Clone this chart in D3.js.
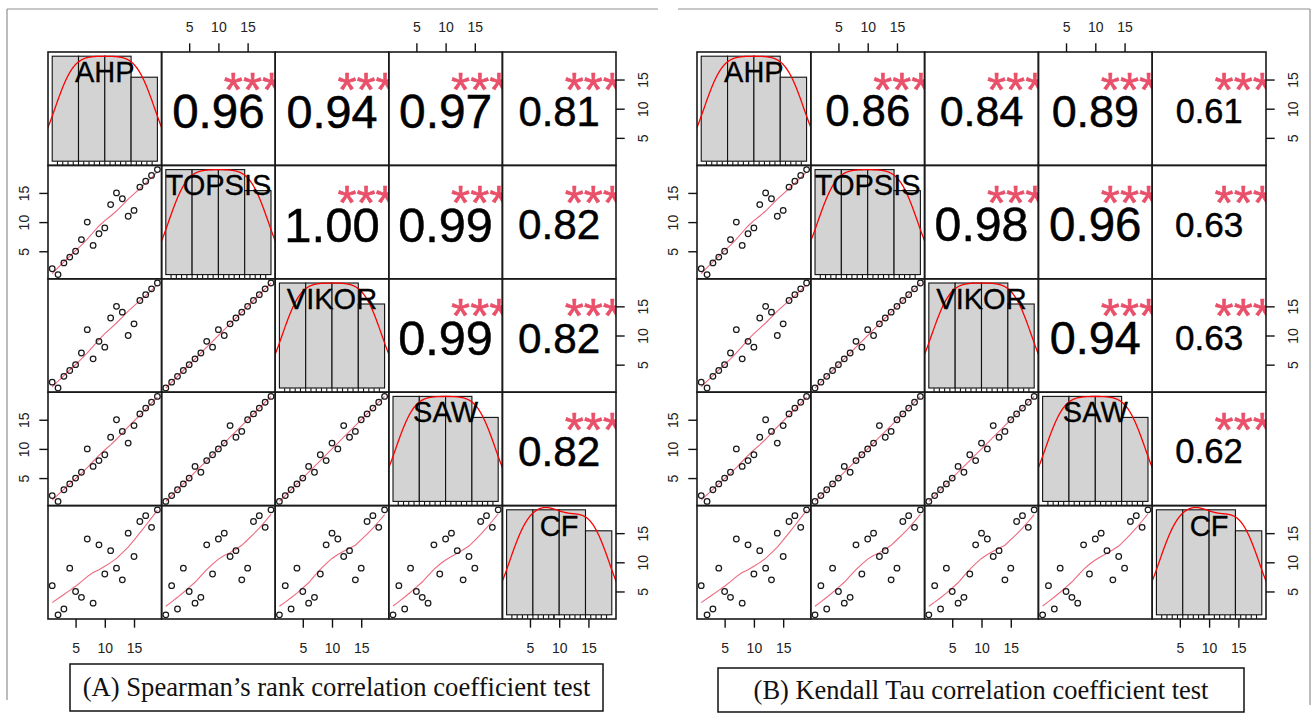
<!DOCTYPE html>
<html><head><meta charset="utf-8">
<script src="https://cdn.jsdelivr.net/npm/d3@7"></script>
<style>
body{margin:0;background:#fff;}
svg{display:block;}
</style></head><body>
<svg id="chart" width="1314" height="720"></svg>
<script>
// ---------------- data ----------------
const methods = ["AHP", "TOPSIS", "VIKOR", "SAW", "CF"];
const AHP    = [1, 2, 3, 4, 5, 6, 7, 8, 9, 10, 11, 12, 13, 14, 15, 16, 17, 18, 19];
const TOPSIS = [2, 1, 3, 4, 5, 7, 10, 6, 8, 9, 13, 15, 14, 11, 12, 16, 17, 18, 19];
const VIKOR  = [2, 1, 3, 4, 5, 7, 11, 6, 9, 8, 13, 15, 14, 10, 12, 16, 17, 18, 19];
const SAW    = [2, 1, 3, 4, 5, 6, 10, 7, 8, 9, 12, 15, 13, 11, 14, 16, 17, 18, 19];
const CF     = [6, 1, 2, 9, 5, 4, 14, 3, 13, 8, 12, 9, 7, 15, 11, 17, 18, 16, 19];
// pairs order: (AHP,TOPSIS),(AHP,VIKOR),(AHP,SAW),(AHP,CF),(TOPSIS,VIKOR),(TOPSIS,SAW),(TOPSIS,CF),(VIKOR,SAW),(VIKOR,CF),(SAW,CF)
const spearmanR   = [0.96, 0.94, 0.97, 0.81, 1.00, 0.99, 0.82, 0.99, 0.82, 0.82];
const kendallR    = [0.86, 0.84, 0.89, 0.61, 0.98, 0.96, 0.63, 0.94, 0.63, 0.62];
const spearmanSig = ["***", "***", "***", "***", "***", "***", "***", "***", "***", "***"];
const kendallSig  = ["***", "***", "***", "***", "***", "***", "***", "***", "***", "***"];
const axisTicks   = [5, 10, 15];
const histBreaks  = [0, 5, 10, 15, 20];
const captions    = ["(A) Spearman\u2019s rank correlation coefficient test",
                     "(B) Kendall Tau correlation coefficient test"];

// ---------------- helpers ----------------
const vars = [AHP, TOPSIS, VIKOR, SAW, CF];
const SANS = "'Liberation Sans', Arial, Helvetica, sans-serif";
const SERIF = "'Liberation Serif', 'Times New Roman', serif";

function lowess(xIn, yIn, f = 2 / 3, nsteps = 3) {
  const n = xIn.length;
  const ord = d3.range(n).sort((a, b) => xIn[a] - xIn[b]);
  const x = [0].concat(ord.map(i => xIn[i]));
  const y = [0].concat(ord.map(i => yIn[i]));
  const ys = new Array(n + 1).fill(0), rw = new Array(n + 1).fill(1);
  const res = new Array(n + 1).fill(0), w = new Array(n + 1).fill(0);
  const delta = 0.01 * (x[n] - x[1]);
  const ns = Math.max(2, Math.min(n, Math.floor(f * n + 1e-7)));
  const range = x[n] - x[1];
  function lowest(xs, nleft, nright, userw) {
    const h = Math.max(xs - x[nleft], x[nright] - xs);
    const h9 = 0.999 * h, h1 = 0.001 * h;
    let a = 0, j = nleft;
    while (j <= n) {
      w[j] = 0;
      const r = Math.abs(x[j] - xs);
      if (r <= h9) {
        if (r <= h1) w[j] = 1; else { const q = r / h, t = 1 - q * q * q; w[j] = t * t * t; }
        if (userw) w[j] *= rw[j];
        a += w[j];
      } else if (x[j] > xs) break;
      j++;
    }
    const nrt = j - 1;
    if (a <= 0) return null;
    for (j = nleft; j <= nrt; j++) w[j] /= a;
    if (h > 0) {
      a = 0;
      for (j = nleft; j <= nrt; j++) a += w[j] * x[j];
      let b = xs - a, c = 0;
      for (j = nleft; j <= nrt; j++) c += w[j] * (x[j] - a) * (x[j] - a);
      if (Math.sqrt(c) > 0.001 * range) {
        b /= c;
        for (j = nleft; j <= nrt; j++) w[j] *= (b * (x[j] - a) + 1);
      }
    }
    let s = 0;
    for (j = nleft; j <= nrt; j++) s += w[j] * y[j];
    return s;
  }
  let iter = 1;
  while (iter <= nsteps + 1) {
    let nleft = 1, nright = ns, last = 0, i = 1;
    for (;;) {
      if (nright < n) {
        const d1 = x[i] - x[nleft], d2 = x[nright + 1] - x[i];
        if (d1 > d2) { nleft++; nright++; continue; }
      }
      const v = lowest(x[i], nleft, nright, iter > 1);
      ys[i] = (v === null) ? y[i] : v;
      if (last < i - 1) {
        const denom = x[i] - x[last];
        for (let j = last + 1; j < i; j++) {
          const alpha = (x[j] - x[last]) / denom;
          ys[j] = alpha * ys[i] + (1 - alpha) * ys[last];
        }
      }
      last = i;
      const cut = x[last] + delta;
      for (i = last + 1; i <= n; i++) {
        if (x[i] > cut) break;
        if (x[i] === x[last]) { ys[i] = ys[last]; last = i; }
      }
      i = Math.max(last + 1, i - 1);
      if (last >= n) break;
    }
    let sc = 0;
    for (let k = 1; k <= n; k++) { res[k] = y[k] - ys[k]; sc += Math.abs(res[k]); }
    sc /= n;
    if (iter > nsteps) break;
    const absr = res.slice(1).map(Math.abs).sort((a, b) => a - b);
    const m1 = Math.floor(n / 2);
    const cmad = (n % 2 === 0) ? 3 * (absr[m1] + absr[n - m1 - 1]) : 6 * absr[m1];
    if (cmad < 1e-7 * sc) break;
    const c9 = 0.999 * cmad, c1 = 0.001 * cmad;
    for (let k = 1; k <= n; k++) {
      const r = Math.abs(res[k]);
      rw[k] = r <= c1 ? 1 : (r <= c9 ? Math.pow(1 - (r / cmad) * (r / cmad), 2) : 0);
    }
    iter++;
  }
  return x.slice(1).map((xv, k) => [xv, ys[k + 1]]);
}

function kde(data) {
  const n = data.length;
  const s = data.slice().sort((a, b) => a - b);
  const sd = d3.deviation(s);
  const iqr = d3.quantile(s, 0.75) - d3.quantile(s, 0.25);
  const bw = 0.9 * Math.min(sd, iqr / 1.34) * Math.pow(n, -0.2);
  const from = s[0] - 3 * bw, to = s[n - 1] + 3 * bw;
  return d3.range(512).map(k => {
    const t = from + (to - from) * k / 511;
    const v = d3.sum(s, d => Math.exp(-0.5 * ((t - d) / bw) ** 2)) / (n * bw * Math.sqrt(2 * Math.PI));
    return [t, v];
  });
}

function histDensity(data) {
  const n = data.length;
  return d3.range(histBreaks.length - 1).map(b => {
    const lo = histBreaks[b], hi = histBreaks[b + 1];
    const c = data.filter(d => (d > lo || (b === 0 && d >= lo)) && d <= hi).length;
    return { x0: lo, x1: hi, density: c / (n * (hi - lo)) };
  });
}

function pairIndex(i, j) {
  let k = 0;
  for (let a = 0; a < vars.length; a++)
    for (let b = a + 1; b < vars.length; b++) {
      if (a === i && b === j) return k;
      k++;
    }
  return -1;
}

// ---------------- drawing ----------------
const svg = d3.select("#chart");
const defs = svg.append("defs");

// outer image frames
const frameCol = "#8f8f8f";
svg.append("line").attr("x1", 7).attr("y1", 9).attr("x2", 658).attr("y2", 9).attr("stroke", frameCol).attr("stroke-width", 1.2);
svg.append("line").attr("x1", 7).attr("y1", 9).attr("x2", 7).attr("y2", 700).attr("stroke", frameCol).attr("stroke-width", 1.2);
svg.append("line").attr("x1", 678).attr("y1", 9).attr("x2", 1310).attr("y2", 9).attr("stroke", frameCol).attr("stroke-width", 1.2);
svg.append("line").attr("x1", 1310).attr("y1", 9).attr("x2", 1310).attr("y2", 705).attr("stroke", frameCol).attr("stroke-width", 1.2);

const panels = [
  { x0: 48,  y0: 52, cw: 113.6, ch: 113.4, r: spearmanR, sig: spearmanSig, caption: captions[0], box: [70, 664, 533, 47], capW: 508 },
  { x0: 697, y0: 52, cw: 113.8, ch: 113.4, r: kendallR,  sig: kendallSig,  caption: captions[1], box: [718, 668, 526, 44], capW: 455 }
];

const tickLen = 8.7;
const B = 49;           // base size of the correlation text
const labelSize = 29;   // diagonal label size

panels.forEach((P, pi) => {
  const nv = vars.length;
  const g = svg.append("g").attr("transform", `translate(${P.x0},${P.y0})`);
  const all = vars.flat();
  const ext = d3.extent(all), pad = 0.04 * (ext[1] - ext[0]);
  const xs = d3.scaleLinear().domain([ext[0] - pad, ext[1] + pad]).range([0, P.cw]);
  const ys = d3.scaleLinear().domain([ext[0] - pad, ext[1] + pad]).range([P.ch, 0]);
  const hpad = 0.04 * (histBreaks[histBreaks.length - 1] - histBreaks[0]);
  const hx = d3.scaleLinear().domain([histBreaks[0] - hpad, histBreaks[histBreaks.length - 1] + hpad]).range([0, P.cw]);

  for (let i = 0; i < nv; i++) {
    for (let j = 0; j < nv; j++) {
      const cg = g.append("g").attr("transform", `translate(${j * P.cw},${i * P.ch})`);
      const clipId = `clip_${pi}_${i}_${j}`;
      defs.append("clipPath").attr("id", clipId).append("rect")
        .attr("x", 0).attr("y", 0).attr("width", P.cw).attr("height", P.ch);
      const inner = cg.append("g").attr("clip-path", `url(#${clipId})`);

      if (i > j) {
        // scatter + lowess
        const xd = vars[j], yd = vars[i];
        const pts = xd.map((v, k) => [v, yd[k]]);
        const lw = lowess(xd, yd);
        inner.append("path").datum(lw)
          .attr("d", d3.line().x(d => xs(d[0])).y(d => ys(d[1])))
          .attr("fill", "none").attr("stroke", "#EE6A7E").attr("stroke-width", 1.1);
        inner.selectAll("circle").data(pts).join("circle")
          .attr("cx", d => xs(d[0])).attr("cy", d => ys(d[1])).attr("r", 2.8)
          .attr("fill", "none").attr("stroke", "#1a1a1a").attr("stroke-width", 1.25);
      } else if (i < j) {
        const k = pairIndex(i, j);
        const r = P.r[k];
        const fs = B * (Math.abs(r) + 0.3) / 1.3;
        inner.append("text")
          .attr("x", P.cw * 0.5).attr("y", 58.8 + 0.358 * fs)
          .attr("text-anchor", "middle").attr("font-family", SANS).attr("font-size", fs)
          .attr("fill", "#000").attr("stroke", "#000").attr("stroke-width", 0.5)
          .text(d3.format(".2f")(r));
        inner.append("text")
          .attr("x", P.cw * 0.8).attr("y", 25.6 + 0.573 * B)
          .attr("text-anchor", "middle").attr("font-family", SANS).attr("font-size", B)
          .attr("fill", "#E9506A").attr("stroke", "#E9506A").attr("stroke-width", 0.6)
          .text(P.sig[k]);
      } else {
        const data = vars[i];
        const hd = histDensity(data);
        const maxD = d3.max(hd, d => d.density);
        const hy = d3.scaleLinear().domain([-0.04 * maxD, maxD * 1.04]).range([P.ch, 0]);
        inner.selectAll("rect.bar").data(hd).join("rect").attr("class", "bar")
          .attr("x", d => hx(d.x0)).attr("width", d => hx(d.x1) - hx(d.x0))
          .attr("y", d => hy(d.density)).attr("height", d => hy(0) - hy(d.density))
          .attr("fill", "#D3D3D3").attr("stroke", "#111").attr("stroke-width", 1.1);
        inner.append("path").datum(kde(data))
          .attr("d", d3.line().x(d => hx(d[0])).y(d => hy(d[1])))
          .attr("fill", "none").attr("stroke", "#FF0000").attr("stroke-width", 1.3);
        inner.selectAll("line.rug").data(data).join("line").attr("class", "rug")
          .attr("x1", d => hx(d)).attr("x2", d => hx(d))
          .attr("y1", P.ch).attr("y2", P.ch - 0.035 * P.ch)
          .attr("stroke", "#111").attr("stroke-width", 1.1);
        cg.append("text")
          .attr("x", P.cw * 0.5).attr("y", 19.7 + 0.358 * labelSize)
          .attr("text-anchor", "middle").attr("font-family", SANS).attr("font-size", labelSize)
          .attr("fill", "#000").attr("stroke", "#000").attr("stroke-width", 0.3)
          .text(methods[i]);
      }
      cg.append("rect").attr("x", 0).attr("y", 0).attr("width", P.cw).attr("height", P.ch)
        .attr("fill", "none").attr("stroke", "#1a1a1a").attr("stroke-width", 1.6);
    }
  }

  // axes
  function drawAxis(orient, tx, ty, scale) {
    const gen = { top: d3.axisTop, bottom: d3.axisBottom, left: d3.axisLeft, right: d3.axisRight }[orient];
    const ag = g.append("g").attr("transform", `translate(${tx},${ty})`)
      .call(gen(scale).tickValues(axisTicks).tickSize(tickLen).tickFormat(d3.format("d")));
    ag.attr("font-family", SANS).attr("font-size", 14);
    ag.select(".domain").remove();
    ag.selectAll(".tick line").attr("stroke", "#111").attr("stroke-width", 1.4);
    const t = ag.selectAll(".tick text").attr("fill", "#222").attr("x", 0).attr("y", 0).attr("dy", "0.36em")
      .attr("text-anchor", "middle");
    if (orient === "top") t.attr("transform", "translate(0,-25.3)");
    if (orient === "bottom") t.attr("transform", "translate(0,29.3)");
    if (orient === "left") t.attr("transform", "translate(-24.5,0) rotate(-90)");
    if (orient === "right") t.attr("transform", "translate(26.5,0) rotate(-90)");
  }
  for (let j = 0; j < nv; j++) {
    if (j % 2 === 1) drawAxis("top", j * P.cw, 0, xs);
    else drawAxis("bottom", j * P.cw, nv * P.ch, xs);
  }
  for (let i = 0; i < nv; i++) {
    if (i % 2 === 1) drawAxis("left", 0, i * P.ch, ys);
    else drawAxis("right", nv * P.cw, i * P.ch, ys);
  }

  // caption box
  const [bx, by, bw, bh] = P.box;
  svg.append("rect").attr("x", bx).attr("y", by).attr("width", bw).attr("height", bh)
    .attr("fill", "none").attr("stroke", "#111").attr("stroke-width", 1.5);
  const ct = svg.append("text").attr("x", bx + bw / 2).attr("text-anchor", "middle")
    .attr("font-family", SERIF).attr("font-size", 22).attr("fill", "#111").text(P.caption);
  const len = ct.node().getComputedTextLength();
  const fs = 22 * P.capW / len;
  ct.attr("font-size", fs).attr("y", by + bh / 2 + 0.33 * fs);
});
</script>
</body></html>
